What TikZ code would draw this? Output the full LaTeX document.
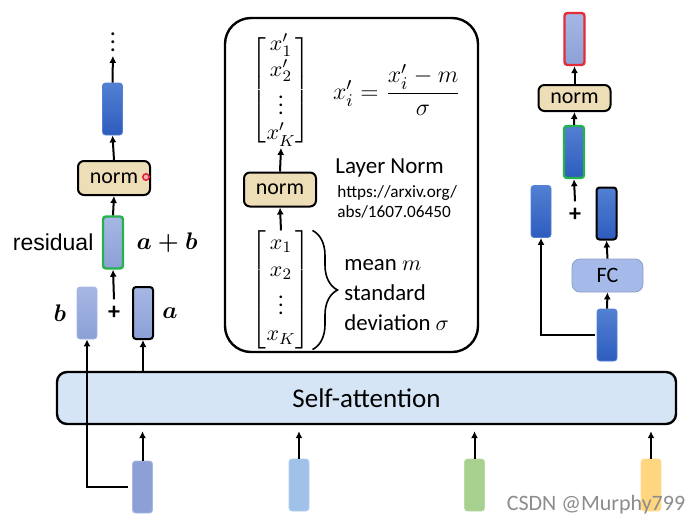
\documentclass[tikz,border=0pt]{standalone}
\usepackage{amsmath}
\usepackage{fontspec}
\setmainfont{Carlito}
\newfontfamily\arialfont{Liberation Sans}
\usetikzlibrary{positioning,arrows.meta,decorations.pathreplacing}

\definecolor{ccdarktop}{RGB}{82,128,210}
\definecolor{ccdarkbot}{RGB}{46,92,190}
\definecolor{cclavtop}{RGB}{166,183,228}
\definecolor{cclavbot}{RGB}{140,160,214}
\definecolor{ccnorm}{RGB}{237,222,184}
\definecolor{ccgreen}{RGB}{38,176,78}
\definecolor{ccred}{RGB}{228,44,56}
\definecolor{ccsa}{RGB}{213,229,246}
\definecolor{ccfc}{RGB}{166,186,234}
\definecolor{ccblue}{RGB}{160,194,232}
\definecolor{ccgrass}{RGB}{168,208,143}
\definecolor{ccyellow}{RGB}{255,214,128}

\begin{document}
\begin{tikzpicture}[x=0.5pt,y=-0.5pt,
  >={Latex[length=3.5pt,width=3.5pt]},
  flow/.style={->, line width=1pt},
  vec/.style={rectangle, rounded corners=1.5pt, minimum width=10pt,
    minimum height=26pt, inner sep=0pt},
  dark/.style={vec, top color=ccdarktop, bottom color=ccdarkbot, draw=ccdarktop},
  light/.style={vec, top color=cclavtop, bottom color=cclavbot, draw=cclavtop},
  normbox/.style={draw, line width=1pt, fill=ccnorm, rounded corners=3pt,
    minimum width=36pt, minimum height=17pt, inner sep=0pt,
    font=\fontsize{11}{13}\selectfont},
  tag/.style={inner sep=0pt, font=\fontsize{11.5}{13}\selectfont}
]
  \useasboundingbox (0,0) rectangle (700,525);

  % Self-attention layer
  \node[draw, line width=1.2pt, fill=ccsa, rounded corners=5pt,
    minimum width=309.5pt, minimum height=26pt,
    font=\fontsize{13.5}{15}\selectfont] (sa) at (366.5,398) {Self-attention};

  % Inputs
  \node[vec, fill=cclavbot, draw=cclavtop] (in1) at (142.5,487) {};
  \node[vec, fill=ccblue, draw=ccblue!80] (in2) at (299,485) {};
  \node[vec, fill=ccgrass, draw=ccgrass!80] (in3) at (474.5,485) {};
  \node[vec, fill=ccyellow, draw=ccyellow!80] (in4) at (651,485) {};
  \draw[flow, shorten >=3pt] (in1.north) -- (in1.north |- sa.south);
  \draw[flow, shorten >=3pt] (in2.north) -- (in2.north |- sa.south);
  \draw[flow, shorten >=3pt] (in3.north) -- (in3.north |- sa.south);
  \draw[flow, shorten >=3pt] (in4.north) -- (in4.north |- sa.south);

  % Residual + norm (left)
  \node[light] (b) at (87,313) {};
  \node[light, draw=black, line width=1pt] (a) at (143,313) {};
  \node[font=\bfseries\fontsize{12}{13}\selectfont] (plus) at (114,313) {+};
  \node[light, draw=ccgreen, line width=1.2pt] (res) at (113,242.5) {};
  \node[normbox] (lnorm) at (114,178) {norm};
  \node[dark] (ltop) at (112.5,109) {};
  \node[inner sep=0pt, font=\fontsize{12}{13}\selectfont] (ldots) at (113,36) {$\boldsymbol{\vdots}$};
  \draw[ccred, line width=0.8pt, fill=ccred!35] (146,177) circle (1.6pt);

  \node[tag, left=4pt of res, font=\arialfont\fontsize{11.5}{13}\selectfont] (lres) {residual};
  \node[tag, right=6pt of res] (lsum) {$\boldsymbol{a+b}$};
  \node[tag, left=5pt of b] (lb) {$\boldsymbol{b}$};
  \node[tag, right=4pt of a] (la) {$\boldsymbol{a}$};

  \draw[flow] (sa.north -| a.south) -- (a.south);
  \draw[flow, shorten <=2pt] (in1.west) -| (b.south);
  \draw[flow] (plus.north) -- (res.south);
  \draw[flow] (res.north) -- (lnorm.south);
  \draw[flow] (lnorm.north) -- (ltop.south);
  \draw[flow, shorten >=2pt] (ltop.north) -- (ldots.south);

  % Layer Norm panel
  \node[draw, line width=1.2pt, rounded corners=13pt,
    minimum width=126.5pt, minimum height=167pt] (panel) at (351.5,185) {};
  \node[inner sep=0pt, font=\fontsize{11}{12.8}\selectfont] (xout) at (281,90)
    {$\left[\begin{matrix}x'_1\\x'_2\\\vdots\\x'_K\end{matrix}\right]$};
  \node[normbox] (mnorm) at (280,189.5) {norm};
  \node[inner sep=0pt, font=\fontsize{11}{13.2}\selectfont] (xin) at (281,290)
    {$\left[\begin{matrix}x_1\\x_2\\\vdots\\x_K\end{matrix}\right]$};
  \draw[flow] (xin.north) -- (mnorm.south);
  \draw[flow] (mnorm.north) -- (xout.south);
  \draw[decorate, decoration={brace, amplitude=12.5pt}, line width=0.8pt]
    ([xshift=1pt]xin.north east) -- ([xshift=1pt]xin.south east);

  \node[anchor=west, font=\fontsize{12.5}{14}\selectfont] (formula) at (326,90)
    {$x'_i=\dfrac{x'_i-m}{\sigma}$};
  \node[tag, anchor=west] (lname) at (335,168) {Layer Norm};
  \node[anchor=west, inner sep=0pt, align=left,
    font=\fontsize{8.6}{10}\selectfont] (url) at (337,202)
    {https://arxiv.org/\\abs/1607.06450};
  \node[anchor=west, inner sep=0pt, align=left,
    font=\fontsize{11.4}{15}\selectfont] (stats) at (344,295)
    {mean $m$\\standard\\deviation $\sigma$};

  % Feed forward + residual + norm (right)
  \node[dark] (fin) at (607,335) {};
  \node[draw=ccfc!85!black, fill=ccfc, rounded corners=4pt,
    minimum width=35.5pt, minimum height=16.5pt, inner sep=0pt,
    font=\fontsize{11}{13}\selectfont] (fc) at (607.5,275.5) {FC};
  \node[dark] (rl) at (541,211.5) {};
  \node[dark, draw=black, line width=1pt] (rr) at (606.5,213.5) {};
  \node[font=\bfseries\fontsize{12}{13}\selectfont] (rplus) at (575,215) {+};
  \node[dark, draw=ccgreen, line width=1.2pt] (rres) at (574,152) {};
  \node[normbox, minimum height=13pt] (rnorm) at (574.5,98) {norm};
  \node[light, draw=ccred, line width=1.2pt] (rtop) at (574.5,39) {};

  \draw[flow] (fin.north) -- (fc.south);
  \draw[flow] (fc.north) -- (rr.south);
  \draw[flow, shorten <=1pt] (fin.west) -| (rl.south);
  \draw[flow] (rplus.north) -- (rres.south);
  \draw[flow] (rres.north) -- (rnorm.south);
  \draw[flow] (rnorm.north) -- (rtop.south);

  % Watermark
  \node[text=black!45, font=\fontsize{11}{13}\selectfont] (mark) at (596,505) {CSDN @Murphy799};
\end{tikzpicture}
\end{document}
